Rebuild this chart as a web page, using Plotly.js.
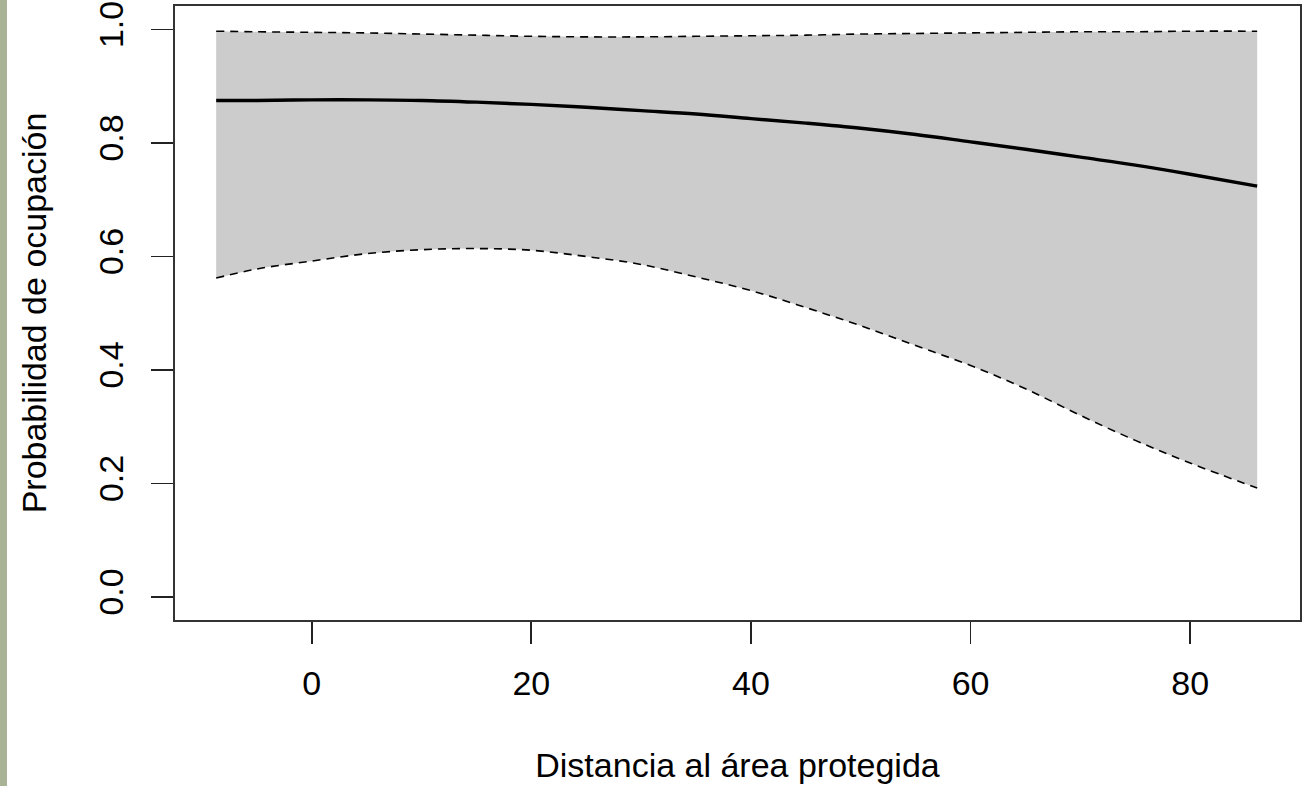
<!DOCTYPE html>
<html>
<head>
<meta charset="utf-8">
<script src="https://cdn.plot.ly/plotly-3.0.1.min.js"></script>
<style>
  html, body { margin: 0; padding: 0; background: #ffffff; }
  body { background: linear-gradient(to right, #a9b497 0px, #a9b497 7px, #ffffff 7px); }
  #chart { width: 1312px; height: 786px; }
</style>
</head>
<body>
<div id="chart"></div>
<script>
// Distance to protected area (x)
const distancia = [-8.7, -5, 0, 5, 10, 15, 20, 25, 30, 35, 40, 45, 50, 55, 60, 65, 70, 75, 80, 86.1];
// Predicted occupancy probability (mean)
const media = [0.875, 0.875, 0.876, 0.876, 0.875, 0.872, 0.868, 0.863, 0.857, 0.851, 0.843, 0.835, 0.826, 0.815, 0.802, 0.789, 0.775, 0.761, 0.745, 0.724];
// Lower confidence limit
const inferior = [0.562, 0.578, 0.592, 0.605, 0.612, 0.614, 0.611, 0.600, 0.586, 0.564, 0.540, 0.510, 0.478, 0.443, 0.408, 0.367, 0.320, 0.276, 0.236, 0.192];
// Upper confidence limit
const superior = [0.997, 0.996, 0.995, 0.994, 0.992, 0.990, 0.988, 0.987, 0.987, 0.988, 0.989, 0.990, 0.992, 0.993, 0.994, 0.995, 0.996, 0.996, 0.997, 0.997];

const xTicks = [0, 20, 40, 60, 80];
const yTicks = [0.0, 0.2, 0.4, 0.6, 0.8, 1.0];
const yTickText = ["0.0", "0.2", "0.4", "0.6", "0.8", "1.0"];

const FONT = "Liberation Sans, Arial, sans-serif";

const traces = [
  { x: distancia, y: inferior, mode: "lines", line: { color: "rgba(0,0,0,0)", width: 0, shape: "spline" }, showlegend: false, hoverinfo: "skip" },
  { x: distancia, y: superior, mode: "lines", fill: "tonexty", fillcolor: "#cccccc", line: { color: "rgba(0,0,0,0)", width: 0, shape: "spline" }, showlegend: false, hoverinfo: "skip" },
  { x: distancia, y: inferior, mode: "lines", line: { color: "#000000", width: 1.6, dash: "8px,6px", shape: "spline" }, showlegend: false },
  { x: distancia, y: superior, mode: "lines", line: { color: "#000000", width: 1.6, dash: "8px,6px", shape: "spline" }, showlegend: false },
  { x: distancia, y: media, mode: "lines", line: { color: "#000000", width: 3.4, shape: "spline" }, showlegend: false }
];

const layout = {
  width: 1312, height: 786,
  margin: { l: 175, r: 12, t: 6, b: 166 },
  paper_bgcolor: "rgba(0,0,0,0)",
  plot_bgcolor: "#ffffff",
  showlegend: false,
  font: { family: FONT, size: 34, color: "#000000" },
  xaxis: {
    range: [-12.45, 90.0],
    tickmode: "array", tickvals: xTicks, ticktext: xTicks.map(String),
    ticks: "outside", ticklen: 22, tickwidth: 1.8, tickcolor: "#222222",
    ticklabelstandoff: 10,
    showline: true, linecolor: "#333333", linewidth: 2, mirror: true,
    showgrid: false, zeroline: false,
    tickfont: { family: FONT, size: 34, color: "#000000" },
    title: { text: "Distancia al área protegida", font: { family: FONT, size: 34, color: "#000000" }, standoff: 52 }
  },
  yaxis: {
    range: [-0.0405, 1.0414],
    tickmode: "array", tickvals: yTicks, ticktext: yTickText,
    tickangle: -90,
    ticks: "outside", ticklen: 22, tickwidth: 1.8, tickcolor: "#222222",
    ticklabelstandoff: 14,
    showline: true, linecolor: "#333333", linewidth: 2, mirror: true,
    showgrid: false, zeroline: false,
    tickfont: { family: FONT, size: 34, color: "#000000" },
    title: { text: "Probabilidad de ocupación", font: { family: FONT, size: 34, color: "#000000" }, standoff: 36 }
  }
};

Plotly.newPlot("chart", traces, layout, { displayModeBar: false, staticPlot: true });
</script>
</body>
</html>
